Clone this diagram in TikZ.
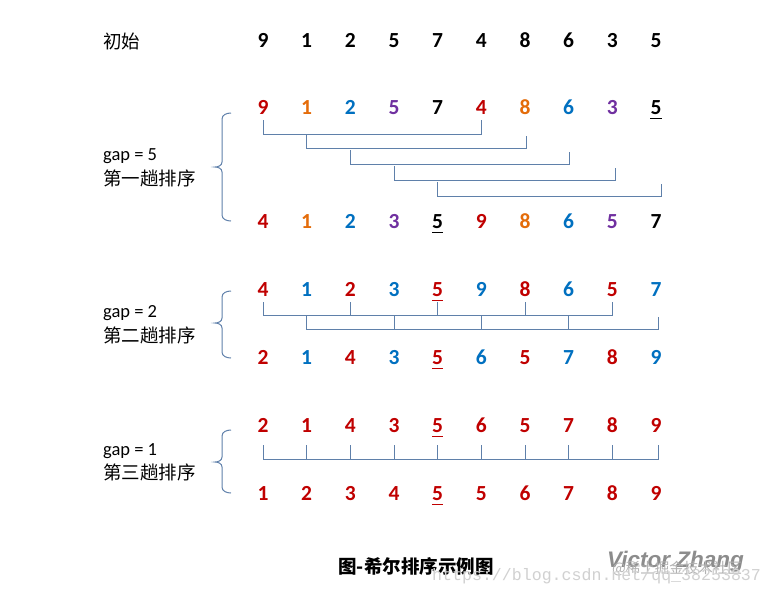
\documentclass[tikz,border=0pt]{standalone}
\usepackage{fontspec}
\setmainfont{Carlito}
\newfontfamily\cjk{Noto Sans CJK SC}
\newfontfamily\wmsans{Liberation Sans}
\newfontfamily\wmmono{Liberation Mono}
\definecolor{dR}{RGB}{192,0,0}
\definecolor{dO}{RGB}{228,108,10}
\definecolor{dB}{RGB}{0,112,192}
\definecolor{dP}{RGB}{112,48,160}
\definecolor{dK}{RGB}{0,0,0}
\definecolor{bcol}{RGB}{95,128,170}
\tikzset{
  dig/.style={inner sep=0pt,text height=13.6pt,text depth=0pt,font=\fontsize{21.5}{21.5}\selectfont\bfseries},
  lbl/.style={inner sep=0pt,anchor=west,font=\fontsize{18.5}{18.5}\selectfont\cjk},
  glbl/.style={inner sep=0pt,anchor=west,font=\fontsize{18.5}{18.5}\selectfont},
  br/.style={draw=bcol,line width=1pt},
  ul/.style={line width=1.8pt},
}
\begin{document}
\begin{tikzpicture}[x=1pt,y=-1pt]
\useasboundingbox[fill=white] (0,0) rectangle (773,598);
% rows of digits
\foreach \d/\c [count=\i from 0] in {9/dK,1/dK,2/dK,5/dK,7/dK,4/dK,8/dK,6/dK,3/dK,5/dK}
  \node[dig,text=\c] (r0c\i) at ({263+43.67*\i},41) {\d};
\foreach \d/\c [count=\i from 0] in {9/dR,1/dO,2/dB,5/dP,7/dK,4/dR,8/dO,6/dB,3/dP,5/dK}
  \node[dig,text=\c] (r1c\i) at ({263+43.67*\i},108) {\d};
\foreach \d/\c [count=\i from 0] in {4/dR,1/dO,2/dB,3/dP,5/dK,9/dR,8/dO,6/dB,5/dP,7/dK}
  \node[dig,text=\c] (r2c\i) at ({263+43.67*\i},222) {\d};
\foreach \d/\c [count=\i from 0] in {4/dR,1/dB,2/dR,3/dB,5/dR,9/dB,8/dR,6/dB,5/dR,7/dB}
  \node[dig,text=\c] (r3c\i) at ({263+43.67*\i},290) {\d};
\foreach \d/\c [count=\i from 0] in {2/dR,1/dB,4/dR,3/dB,5/dR,6/dB,5/dR,7/dB,8/dR,9/dB}
  \node[dig,text=\c] (r4c\i) at ({263+43.67*\i},358) {\d};
\foreach \d [count=\i from 0] in {2,1,4,3,5,6,5,7,8,9}
  \node[dig,text=dR] (r5c\i) at ({263+43.67*\i},426) {\d};
\foreach \d [count=\i from 0] in {1,2,3,4,5,5,6,7,8,9}
  \node[dig,text=dR] (r6c\i) at ({263+43.67*\i},494) {\d};
% underlines
\draw[ul,dK] ([yshift=-3.5pt]r1c9.south west) -- ([yshift=-3.5pt]r1c9.south east);
\draw[ul,dK] ([yshift=-3.5pt]r2c4.south west) -- ([yshift=-3.5pt]r2c4.south east);
\draw[ul,dR] ([yshift=-3.5pt]r3c4.south west) -- ([yshift=-3.5pt]r3c4.south east);
\draw[ul,dR] ([yshift=-3.5pt]r4c4.south west) -- ([yshift=-3.5pt]r4c4.south east);
\draw[ul,dR] ([yshift=-3.5pt]r5c4.south west) -- ([yshift=-3.5pt]r5c4.south east);
\draw[ul,dR] ([yshift=-3.5pt]r6c4.south west) -- ([yshift=-3.5pt]r6c4.south east);
% labels
\node[lbl] (init) at (103,41) {初始};
\node[glbl] (g5) at (103,156) {gap = 5};
\node[lbl] (p1) at (103,178) {第一趟排序};
\node[glbl] (g2) at (103,313) {gap = 2};
\node[lbl] (p2) at (103,335) {第二趟排序};
\node[glbl] (g1) at (103,451) {gap = 1};
\node[lbl] (p3) at (103,472) {第三趟排序};
% braces
\draw[br] (231,113) to[out=180,in=90] (222,119) -- (222,162) to[out=-90,in=0] (215,167) to[out=0,in=90] (222,172) -- (222,215) to[out=-90,in=180] (231,221);
\draw[br] (231,291) to[out=180,in=90] (222,297) -- (222,318) to[out=-90,in=0] (215,323) to[out=0,in=90] (222,328) -- (222,352) to[out=-90,in=180] (231,358);
\draw[br] (231,430) to[out=180,in=90] (222,436) -- (222,457) to[out=-90,in=0] (215,462) to[out=0,in=90] (222,467) -- (222,487) to[out=-90,in=180] (231,493);
% gap = 5 brackets
\draw[br] (r1c0.south |- 0,120) -- (r1c0.south |- 0,134) -- (r1c5.south |- 0,134) -- (r1c5.south |- 0,120);
\draw[br] (r1c1.south |- 0,134) -- (r1c1.south |- 0,148) -- ([xshift=1pt]r1c6.south |- 0,148) -- ([xshift=1pt]r1c6.south |- 0,136);
\draw[br] (r1c2.south |- 0,150) -- (r1c2.south |- 0,164) -- ([xshift=1pt]r1c7.south |- 0,164) -- ([xshift=1pt]r1c7.south |- 0,152);
\draw[br] (r1c3.south |- 0,166) -- (r1c3.south |- 0,180) -- ([xshift=3pt]r1c8.south |- 0,180) -- ([xshift=3pt]r1c8.south |- 0,168);
\draw[br] (r1c4.south |- 0,182) -- (r1c4.south |- 0,196) -- ([xshift=5pt]r1c9.south |- 0,196) -- ([xshift=5pt]r1c9.south |- 0,184);
% gap = 2 brackets
\draw[br] (r3c0.south |- 0,302) -- (r3c0.south |- 0,315) -- (r3c8.south |- 0,315) -- (r3c8.south |- 0,302);
\foreach \k in {2,4,6} \draw[br] (r3c\k.south |- 0,302) -- (r3c\k.south |- 0,315);
\draw[br] (r3c1.south |- 0,316) -- (r3c1.south |- 0,329) -- ([xshift=2pt]r3c9.south |- 0,329) -- ([xshift=2pt]r3c9.south |- 0,317);
\foreach \k in {3,5,7} \draw[br] (r3c\k.south |- 0,315) -- (r3c\k.south |- 0,329);
% gap = 1 bracket
\draw[br] (r5c0.south |- 0,445) -- (r5c0.south |- 0,459) -- ([xshift=2pt]r5c9.south |- 0,459) -- ([xshift=2pt]r5c9.south |- 0,445);
\foreach \k in {1,...,8} \draw[br] (r5c\k.south |- 0,445) -- (r5c\k.south |- 0,459);
% caption
\node[inner sep=0pt,font=\fontsize{18.5}{18.5}\selectfont\cjk\bfseries] (cap) at (416,566) {图-希尔排序示例图};
% watermark
\node[inner sep=0pt,anchor=west,text=black!45,font=\fontsize{22.5}{22.5}\selectfont\wmsans\bfseries\itshape] (wm1) at (607,562) {Victor Zhang};
\node[inner sep=0pt,anchor=west,text=black!30,font=\fontsize{14.5}{14.5}\selectfont\cjk] (wm2) at (612,569) {@稀土掘金技术社区};
\node[inner sep=0pt,anchor=west,text=black!18,font=\fontsize{16.6}{16.6}\selectfont\wmmono] (wm3) at (432,576) {https://blog.csdn.net/qq\_38253837};
\end{tikzpicture}
\end{document}
